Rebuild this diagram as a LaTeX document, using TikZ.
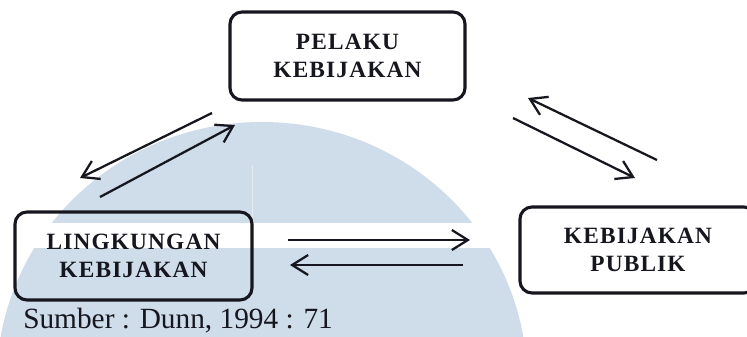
\documentclass[tikz,border=0pt]{standalone}
\usepackage{fontspec}
\setmainfont{Liberation Serif}
\usetikzlibrary{arrows.meta}
\definecolor{wm}{RGB}{207,220,234}
\definecolor{ink}{RGB}{22,22,30}
\begin{document}
\begin{tikzpicture}[x=0.75pt,y=-0.75pt,
  boxnode/.style={draw=ink, line width=2.3pt, rounded corners=9pt, align=center,
    font=\fontsize{17.5}{20.5}\selectfont\bfseries\addfontfeatures{LetterSpace=5},
    text=ink, inner sep=0pt},
  flow/.style={draw=ink, line width=1.7pt,
    -{Straight Barb[length=12pt,width=15pt,line width=1.7pt]}}]
\useasboundingbox (0,0) rectangle (747,336);
\clip (0,0) rectangle (747,336);
% watermark
\fill[wm] (262,380) ellipse [x radius=198.75pt, y radius=193.5pt];
\fill[white] (0,223) rectangle (747,248);
\draw[white, line width=0.6pt, opacity=0.45] (252,165) -- (252,223);
% boxes
\node[boxnode, minimum width=176.25pt, minimum height=66pt] (pelaku) at (347.5,56) {PELAKU\\KEBIJAKAN};
\node[boxnode, minimum width=177.75pt, minimum height=66pt] (lingk) at (133.5,256) {LINGKUNGAN\\KEBIJAKAN};
\node[boxnode, minimum width=177pt, minimum height=64.5pt] (publik) at (638,250) {KEBIJAKAN\\PUBLIK};
\node[anchor=base west, font=\fontsize{22}{24}\selectfont, text=ink, inner sep=0pt] (src) at (23,328) {Sumber : Dunn, 1994 : 71};
% arrow ends
\coordinate (a1s) at (212,113); \coordinate (a1e) at (80,178);
\coordinate (a2s) at (100,197); \coordinate (a2e) at (235,125);
\coordinate (b1s) at (657,160); \coordinate (b1e) at (528,98);
\coordinate (b2s) at (513,118); \coordinate (b2e) at (635,178);
\coordinate (c1s) at (288,240); \coordinate (c1e) at (470,240);
\coordinate (c2s) at (463,265); \coordinate (c2e) at (290,265);
\draw[flow] (a1s) -- (a1e);
\draw[flow] (a2s) -- (a2e);
\draw[flow] (b1s) -- (b1e);
\draw[flow] (b2s) -- (b2e);
\draw[flow] (c1s) -- (c1e);
\draw[flow] (c2s) -- (c2e);
\end{tikzpicture}
\end{document}
